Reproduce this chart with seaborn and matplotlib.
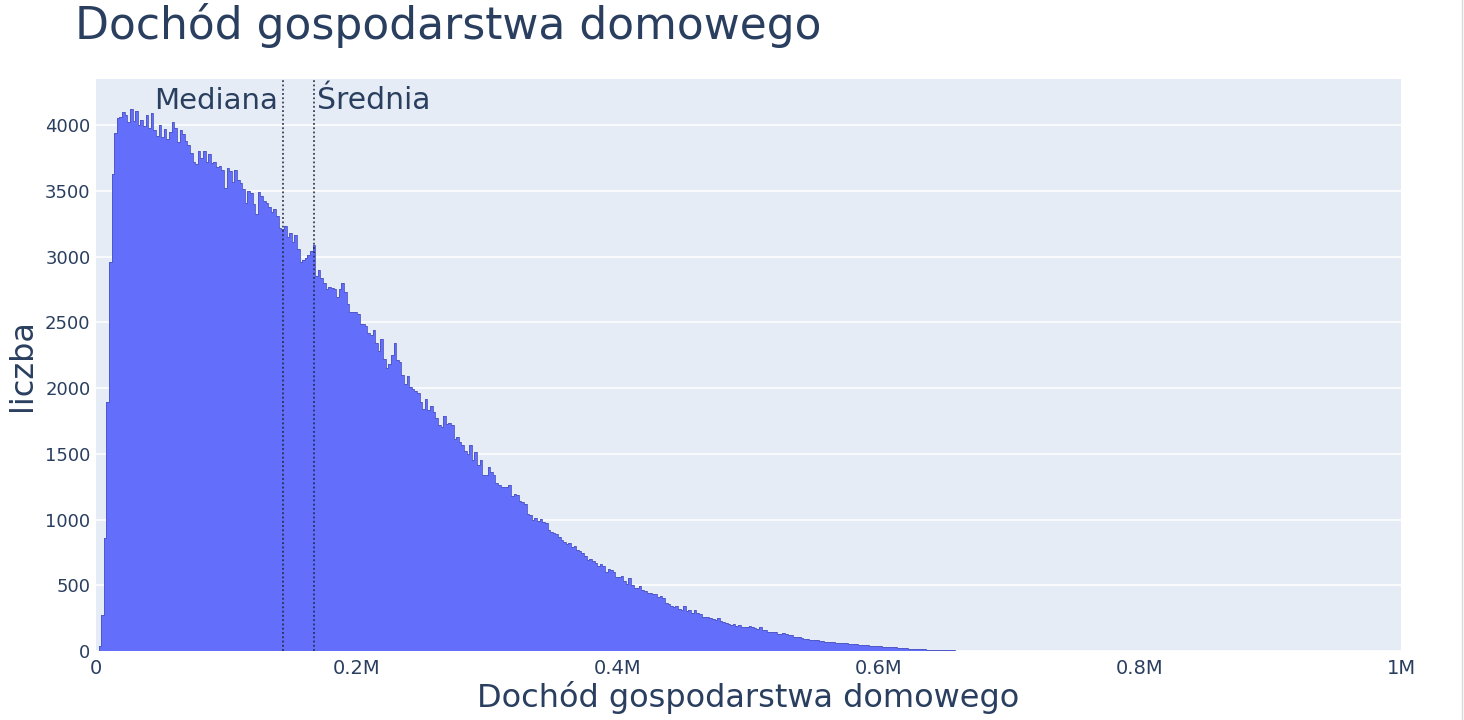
import numpy as np
import pandas as pd
import matplotlib
matplotlib.use("Agg")
import matplotlib.pyplot as plt
import matplotlib.transforms as mtransforms
from matplotlib.lines import Line2D
import seaborn as sns

# ---------------- data (counts per 2000-wide income bin) ----------------
bin_width = 2000

counts_rise = [0, 40, 275, 860, 1890, 2960, 3630, 3940, 4050, 4060]
counts_peak = [
    4100, 4080, 4020, 4120, 4030, 4110, 4000, 4040, 3990, 4080,
    3980, 4090, 3960, 3920, 4000, 3910, 3970, 3890, 3950, 4020,
    3980, 3870, 3960, 3930, 3880, 3850, 3790, 3720, 3700, 3800,
    3750, 3800, 3720, 3780, 3710, 3720, 3680, 3690, 3660, 3520,
]
counts_upper_decline = [
    3670, 3650, 3570, 3660, 3580, 3560, 3510, 3410, 3500, 3480,
    3400, 3320, 3490, 3460, 3420, 3410, 3380, 3340, 3360, 3310,
    3220, 3210, 3235, 3150, 3180, 3110, 3160, 3060, 2960, 2975,
    2985, 3010, 3040, 3085, 2850, 2900, 2835, 2800, 2750, 2770,
    2760, 2750, 2695, 2755, 2800, 2730, 2640, 2580, 2580, 2575,
    2560, 2490, 2490, 2470, 2420, 2400, 2440, 2340, 2280, 2370,
    2220, 2150, 2180, 2250, 2340, 2210, 2200, 2100, 2030, 2090,
]
counts_mid_decline = [
    2005, 1990, 1975, 1960, 1890, 1840, 1915, 1835, 1865, 1820,
    1770, 1720, 1705, 1785, 1730, 1735, 1715, 1610, 1630, 1590,
    1565, 1520, 1495, 1565, 1455, 1515, 1415, 1450, 1340, 1335,
    1400, 1360, 1340, 1275, 1262, 1250, 1245, 1250, 1262, 1175,
    1195, 1190, 1140, 1135, 1120, 1045, 1035, 1000, 1012, 985,
    1005, 978, 975, 920, 905, 895, 890, 869, 845, 830,
]
counts_lower_decline = [
    815, 820, 790, 800, 770, 760, 748, 720, 692, 697,
    687, 667, 647, 662, 650, 603, 621, 616, 603, 566,
    566, 571, 535, 512, 553, 500, 476, 476, 495, 464,
    460, 438, 438, 436, 433, 413, 418, 400, 362, 357,
    345, 337, 342, 317, 314, 342, 307, 312, 286, 312,
    286, 281, 261, 262, 256, 250, 245, 236, 248, 228,
    218, 215, 205, 198, 203, 190, 200, 185, 180, 182,
    190, 185, 172, 170, 185, 160, 158, 148, 147, 142,
    142, 127, 132, 134, 127, 122, 125, 108, 108, 106,
]
counts_tail = [
    100, 94, 90, 87, 84, 83, 80, 78, 74, 72,
    71, 68, 66, 64, 63, 61, 60, 58, 56, 55,
    52, 50, 48, 47, 45, 43, 41, 40, 39, 38,
    36, 34, 33, 31, 30, 28, 27, 26, 24, 22,
    20, 18, 17, 16, 15, 13, 13, 12, 11, 10,
    9, 8, 8, 7, 6, 6, 5, 4, 4, 3,
    3, 3, 2, 2, 2, 2, 1, 1, 1, 1,
    1, 1, 1, 0, 1, 1, 0, 1, 0, 1,
    0, 0, 0, 0, 0, 1, 0, 0, 0, 0,
    0, 0, 1, 0, 0, 0, 0, 0, 0, 0,
    0, 1, 0, 0, 0, 0, 0, 0, 1, 0,
    0, 0, 0, 0, 1, 0, 0, 0, 0, 0,
    1, 0, 0, 0, 0, 0, 0, 0, 0, 0,
]

median_value = 143300
mean_value = 167000

x_ticks = [0, 200000, 400000, 600000, 800000, 1000000]
x_tick_labels = ["0", "0.2M", "0.4M", "0.6M", "0.8M", "1M"]
y_ticks = [0, 500, 1000, 1500, 2000, 2500, 3000, 3500, 4000]
y_tick_labels = ["0", "500", "1000", "1500", "2000", "2500", "3000", "3500", "4000"]

title_text = "Dochód gospodarstwa domowego"
x_label = "Dochód gospodarstwa domowego"
y_label = "liczba"
median_label = "Mediana"
mean_label = "Średnia"

# ---------------- build table ----------------
counts = (counts_rise + counts_peak + counts_upper_decline + counts_mid_decline
          + counts_lower_decline + counts_tail)
n_bins = len(counts)
edges = [float(i * bin_width) for i in range(n_bins + 1)]
df = pd.DataFrame({"income": [e + bin_width / 2 for e in edges[:-1]], "count": counts})

# ---------------- figure ----------------
text_color = "#2a3f5f"
W, H = 1464, 720
fig = plt.figure(figsize=(W / 100, H / 100), dpi=100)
fig.patch.set_facecolor("white")
left, right, top, bottom = 96, 1401, 79, 651
ax = fig.add_axes([left / W, 1 - bottom / H, (right - left) / W, (bottom - top) / H])
ax.set_facecolor("#E5ECF6")

sns.histplot(data=df, x="income", weights="count", bins=edges, ax=ax,
             color="#636EFA", alpha=1.0, edgecolor="none", linewidth=0, zorder=2)
sns.histplot(data=df, x="income", weights="count", bins=edges, ax=ax,
             element="step", fill=False, color="#4d55c4", linewidth=0.6, zorder=3)

ax.set_xlim(0, 1000000)
ax.set_ylim(0, 4350)
ax.set_yticks(y_ticks)
ax.set_yticklabels(y_tick_labels)
ax.set_xticks(x_ticks)
ax.set_xticklabels(x_tick_labels)
ax.tick_params(axis="both", length=0, colors=text_color)
ax.tick_params(axis="y", pad=4, labelsize=13)
ax.tick_params(axis="x", pad=6, labelsize=14)
ax.yaxis.grid(True, color="white", linewidth=1.1, zorder=0)
ax.xaxis.grid(False)
ax.set_axisbelow(True)
for s in ax.spines.values():
    s.set_visible(False)
ax.set_xlabel("")
ax.set_ylabel("")

# median / mean lines
for v in (median_value, mean_value):
    ax.axvline(v, color="#1c2540", linestyle=(0, (1.2, 1.6)), linewidth=1.1, zorder=4)

trans = mtransforms.blended_transform_factory(ax.transData, ax.transAxes)
ax.text(median_value - 4000, 0.962, median_label, transform=trans, ha="right", va="center",
        fontsize=21, color=text_color, zorder=5)
ax.text(mean_value + 2500, 0.962, mean_label, transform=trans, ha="left", va="center",
        fontsize=21.5, color=text_color, zorder=5)

# titles
fig.text(75 / W, 1 - 25 / H, title_text, ha="left", va="center", fontsize=31.7, color=text_color)
fig.text((left + right) / 2 / W, 1 - 698 / H, x_label, ha="center", va="center",
         fontsize=23, color=text_color)
fig.text(22 / W, 1 - 365 / H, y_label, ha="center", va="center", rotation=90,
         fontsize=23, color=text_color)

# screenshot border on the right
fig.add_artist(Line2D([1461.5 / W, 1461.5 / W], [0, 1], transform=fig.transFigure,
                      color="#d9d9d9", linewidth=1))

fig.savefig("out.png", dpi=100, facecolor="white")
